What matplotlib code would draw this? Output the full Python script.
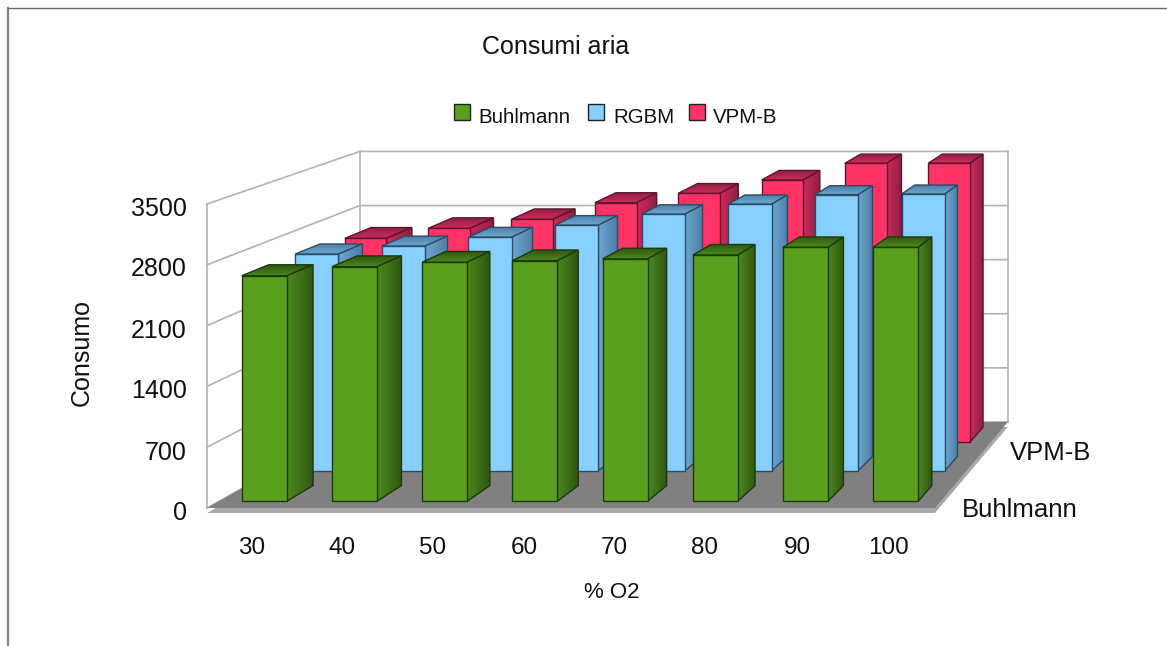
import numpy as np
import matplotlib as mpl
import matplotlib.pyplot as plt
from matplotlib.colors import to_rgb
from matplotlib.patches import Polygon

mpl.use("agg")

plt.rcParams["font.family"] = ["Liberation Sans", "DejaVu Sans"]

# chart values
categories = ["30", "40", "50", "60", "70", "80", "90", "100"]
series_names = ["Buhlmann", "RGBM", "VPM-B"]
buhlmann = [2618, 2723, 2775, 2793, 2813, 2858, 2947, 2947]
rgbm = [2618, 2715, 2823, 2968, 3101, 3222, 3337, 3345]
vpm_b = [2563, 2688, 2802, 3010, 3128, 3296, 3506, 3506]
y_ticks = [0, 700, 1400, 2100, 2800, 3500]

# floor corners in pixels and the vanishing point of the 3d box
FRONT_LEFT, FRONT_RIGHT, FRONT_BOTTOM, FRONT_TOP = 207, 935, 508, 204
VANISH_X, VANISH_Y = 1597, -274
BACK_SCALE = 0.89
Y_MAX = 3500

# colours: front, side/top near edge, side/top far edge, outline
GREEN = ("#5aa01e", "#4a8a1c", "#2f5512", "#1c3a0a")
BLUE = ("#87cfff", "#6ca8d2", "#4f7da6", "#2c4c64")
RED = ("#ff3366", "#d02a58", "#8c1f42", "#5c1530")
# near and far edge of each row of bars, as a share of the floor depth
ROW_DEPTH = [(0.08, 0.26), (0.435, 0.60), (0.765, 0.94)]


def project(x, value, depth):
    px = FRONT_LEFT + (FRONT_RIGHT - FRONT_LEFT) * x
    py = FRONT_BOTTOM - (FRONT_BOTTOM - FRONT_TOP) * value / Y_MAX
    s = 1 - (1 - BACK_SCALE) * depth
    return VANISH_X + (px - VANISH_X) * s, VANISH_Y + (py - VANISH_Y) * s


def shaded_face(ax, pts, c0, c1, horizontal, edge, z):
    xs = [p[0] for p in pts]
    ys = [p[1] for p in pts]
    t = np.linspace(0, 1, 64)
    ramp = np.outer(1 - t, to_rgb(c0)) + np.outer(t, to_rgb(c1))
    grad = ramp[np.newaxis, :, :] if horizontal else ramp[:, np.newaxis, :]
    im = ax.imshow(
        grad,
        extent=(min(xs), max(xs), max(ys), min(ys)),
        origin="upper",
        aspect="auto",
        interpolation="bilinear",
        zorder=z,
    )
    clip = Polygon(pts, closed=True, transform=ax.transData)
    im.set_clip_path(clip)
    ax.add_patch(Polygon(pts, closed=True, fill=False, ec=edge, lw=1, zorder=z + 0.1))


def draw_bar(ax, i, value, row, colors, z):
    front, near, far, edge = colors
    d0, d1 = ROW_DEPTH[row]
    x0 = (i + 0.25) / len(categories)
    x1 = (i + 0.75) / len(categories)
    # top face goes dark toward the back, side face toward the right
    top = [project(x0, value, d0), project(x1, value, d0), project(x1, value, d1), project(x0, value, d1)]
    side = [project(x1, 0, d0), project(x1, value, d0), project(x1, value, d1), project(x1, 0, d1)]
    shaded_face(ax, top, far, near, False, edge, z)
    shaded_face(ax, side, near, far, True, edge, z + 0.2)
    face = [project(x0, 0, d0), project(x1, 0, d0), project(x1, value, d0), project(x0, value, d0)]
    ax.add_patch(Polygon(face, closed=True, fc=front, ec=edge, lw=1, zorder=z + 0.4))


fig = plt.figure(figsize=(11.67, 6.46), dpi=100)
ax = fig.add_axes([0, 0, 1, 1])
ax.set_xlim(0, 1167)
ax.set_ylim(646, 0)
ax.set_autoscale_on(False)
ax.axis("off")

# outer frame, only top and left are in the picture
ax.plot([7.8, 1167], [8, 8], color="#666666", lw=1, zorder=1)
ax.plot([7.8, 7.8], [8, 646], color="#808080", lw=1.6, zorder=1)

# walls and grid
GRID = "#b3b3b3"
for v in y_ticks:
    fl = project(0, v, 0)
    bl = project(0, v, 1)
    br = project(1, v, 1)
    ax.plot([fl[0], bl[0], br[0]], [fl[1], bl[1], br[1]], color=GRID, lw=1.2, zorder=2)
for x, d in [(0, 0), (0, 1), (1, 1)]:
    a = project(x, 0, d)
    b = project(x, Y_MAX, d)
    ax.plot([a[0], b[0]], [a[1], b[1]], color=GRID, lw=1.2, zorder=2)

# floor, with its lighter front edge
corners = [project(0, 0, 0), project(1, 0, 0), project(1, 0, 1), project(0, 0, 1)]
edge_pts = [(x, y + 5) for x, y in corners]
ax.add_patch(Polygon(edge_pts, closed=True, fc="#a8a8a8", ec="none", zorder=3))
ax.add_patch(Polygon(corners, closed=True, fc="#808080", ec="none", zorder=3.1))

# back row first so the front rows cover it
rows = [(2, vpm_b, RED), (1, rgbm, BLUE), (0, buhlmann, GREEN)]
z = 4
for row, values, colors in rows:
    for i, value in enumerate(values):
        draw_bar(ax, i, value, row, colors, z)
        z += 1

# text
TXT = "#111111"
ax.text(556, 47.5, "Consumi aria", fontsize=18, ha="center", va="center", color=TXT)

swatch_x = [453.5, 588, 688.5]
label_x = [478, 613, 713]
swatch_colors = [GREEN, BLUE, RED]
for name, sx, lx, colors in zip(series_names, swatch_x, label_x, swatch_colors):
    ax.add_patch(plt.Rectangle((sx, 103.5), 16, 16, fc=colors[0], ec="#222222", lw=1, zorder=50))
    ax.text(lx, 117.5, name, fontsize=14.8, ha="left", va="center", color=TXT)

tick_y = [512.5, 452.5, 391.5, 330.5, 269.5, 208.5]
for v, y in zip(y_ticks, tick_y):
    ax.text(187, y, str(v), fontsize=18, ha="right", va="center", color=TXT)

cat_x = [252, 342, 433, 524, 614, 705, 797, 889]
for label, x in zip(categories, cat_x):
    ax.text(x, 547.5, label, fontsize=17.5, ha="center", va="center", color=TXT)

ax.text(81.5, 353, "Consumo", fontsize=18, rotation=90, ha="center", va="center", color=TXT)
ax.text(612, 592, "% O2", fontsize=16, ha="center", va="center", color=TXT)
ax.text(962, 510, series_names[0], fontsize=18.5, ha="left", va="center", color=TXT)
ax.text(1010, 453.5, series_names[2], fontsize=18.5, ha="left", va="center", color=TXT)

fig.savefig("out.png", dpi=100)
